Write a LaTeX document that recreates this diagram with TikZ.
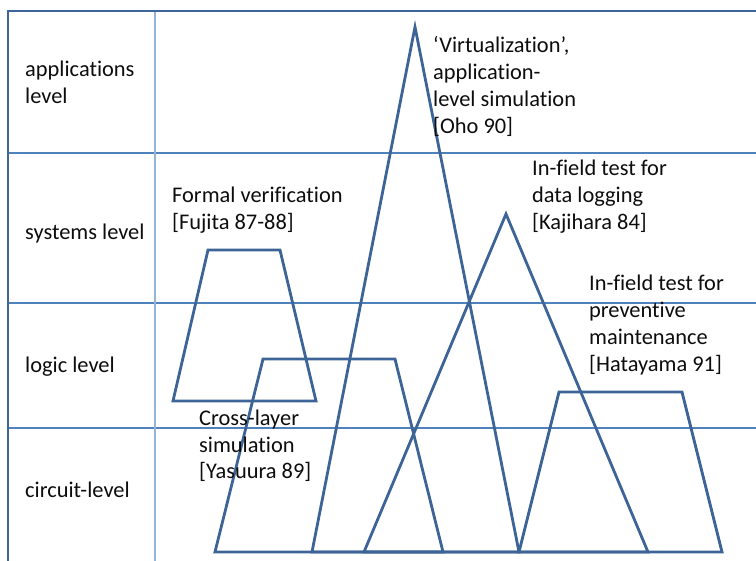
\documentclass[tikz,border=0pt]{standalone}
\usepackage{fontspec}
\setmainfont{Carlito}[Ligatures={NoCommon}]
\definecolor{frameblue}{HTML}{3F6699}
\definecolor{rowblue}{HTML}{4F81BD}
\definecolor{colblue}{HTML}{95B3D7}
\definecolor{shapeblue}{HTML}{3D6497}
\definecolor{textgray}{HTML}{0D0D0D}
\begin{document}
\begin{tikzpicture}[x=1pt,y=-1pt,
  frame/.style={draw=frameblue,line width=2.6pt},
  rowline/.style={draw=rowblue,line width=1.3pt},
  colline/.style={draw=colblue,line width=2pt},
  region/.style={draw=shapeblue,line width=2.8pt,line join=miter},
  % multi-line labels are placed by the baseline of their last line
  lbl/.style={anchor=base west,align=left,inner sep=0pt,text=textgray,
    font=\fontsize{22.4}{27}\selectfont}]
\useasboundingbox (0,0) rectangle (756,561);
% table grid
\draw[rowline] (8,153) -- (756,153);
\draw[rowline] (8,303) -- (756,303);
\draw[rowline] (8,428) -- (756,428);
\draw[colline] (155,11) -- (155,561);
\draw[frame] (8,561) -- (8,11) -- (756,11);
% level labels
\node[lbl] (app) at (25,104) {applications\\level};
\node[lbl] (sys) at (25,240) {systems level};
\node[lbl] (logic) at (25,373) {logic level};
\node[lbl] (circ) at (25,498) {circuit-level};
% formal verification
\draw[region] (208,250) -- (280,250) -- (316,401) -- (173,401) -- cycle;
% cross-layer simulation
\draw[region] (263,359) -- (395,359) -- (443,552) -- (215,552) -- cycle;
% virtualization
\draw[region] (415,27) -- (519,552) -- (312,552) -- cycle;
% data logging
\draw[region] (506,214) -- (648,552) -- (364,552) -- cycle;
% preventive maintenance
\draw[region] (559,392) -- (682,392) -- (722,552) -- (519,552) -- cycle;
% region labels
\node[lbl] (fv) at (172,230) {Formal verification\\{[Fujita 87-88]}};
\node[lbl] (virt) at (433,134) {‘Virtualization’,\\application-\\level simulation\\{[Oho 90]}};
\node[lbl] (dl) at (532,230) {In-field test for\\data logging\\{[Kajihara 84]}};
\node[lbl] (pm) at (589,372) {In-field test for\\preventive\\maintenance\\{[Hatayama 91]}};
\node[lbl] (cl) at (199,479) {Cross-layer\\simulation\\{[Yasuura 89]}};
\end{tikzpicture}
\end{document}
